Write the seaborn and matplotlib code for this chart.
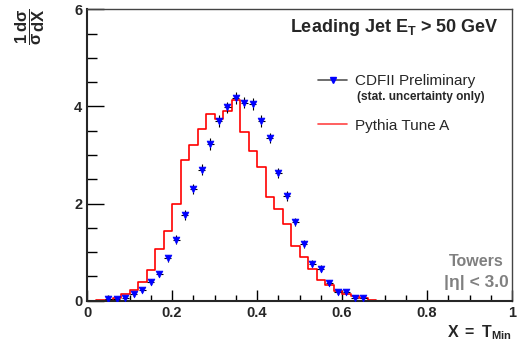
import numpy as np
import pandas as pd
import seaborn as sns
import matplotlib.pyplot as plt
from matplotlib.lines import Line2D
from matplotlib.ticker import MultipleLocator

# CDF data points (bin centres, values, stat errors)
data_x = [0.05, 0.07, 0.09, 0.11, 0.13, 0.15, 0.17, 0.19, 0.21, 0.23, 0.25,
          0.27, 0.29, 0.31, 0.33, 0.35, 0.37, 0.39, 0.41, 0.43, 0.45, 0.47,
          0.49, 0.51, 0.53, 0.55, 0.57, 0.59, 0.61, 0.63, 0.65]
data_y = [0.03, 0.04, 0.06, 0.14, 0.22, 0.38, 0.55, 0.87, 1.26, 1.76, 2.30,
          2.70, 3.22, 3.70, 3.98, 4.18, 4.08, 4.05, 3.70, 3.35, 2.63, 2.15,
          1.62, 1.16, 0.76, 0.66, 0.37, 0.17, 0.17, 0.06, 0.06]
data_err = [0.02, 0.02, 0.03, 0.04, 0.05, 0.06, 0.07, 0.08, 0.09, 0.10, 0.11,
            0.11, 0.12, 0.12, 0.12, 0.12, 0.12, 0.12, 0.12, 0.11, 0.11, 0.10,
            0.09, 0.08, 0.07, 0.07, 0.05, 0.04, 0.04, 0.03, 0.03]

# Pythia Tune A histogram (bins of 0.02 starting at 0)
pythia_centres = [0.01, 0.03, 0.05, 0.07, 0.09, 0.11, 0.13, 0.15, 0.17, 0.19,
                  0.21, 0.23, 0.25, 0.27, 0.29, 0.31, 0.33, 0.35, 0.37, 0.39,
                  0.41, 0.43, 0.45, 0.47, 0.49, 0.51, 0.53, 0.55, 0.57, 0.59,
                  0.61, 0.63, 0.65, 0.67]
pythia_vals = [0.0, 0.01, 0.02, 0.06, 0.13, 0.23, 0.38, 0.63, 1.06, 1.44,
               1.99, 2.90, 3.20, 3.53, 3.84, 3.75, 3.90, 4.13, 3.48, 3.08,
               2.75, 2.14, 1.88, 1.57, 1.12, 0.89, 0.65, 0.43, 0.33, 0.21,
               0.14, 0.10, 0.06, 0.02]

x_ticks = [0, 0.2, 0.4, 0.6, 0.8, 1.0]
x_ticklabels = ["0", "0.2", "0.4", "0.6", "0.8", "1"]
y_ticks = [0, 2, 4, 6]

sns.set_style("ticks")
plt.rcParams['font.family'] = ['Liberation Sans', 'DejaVu Sans']
plt.rcParams['mathtext.fontset'] = 'custom'
plt.rcParams['mathtext.rm'] = 'Liberation Sans'
plt.rcParams['mathtext.bf'] = 'Liberation Sans:bold'
plt.rcParams['mathtext.it'] = 'Liberation Sans:italic'

df_data = pd.DataFrame({'x': data_x, 'y': data_y, 'err': data_err})
df_py = pd.DataFrame({'x': pythia_centres, 'w': pythia_vals})

fig = plt.figure(figsize=(5.18, 3.52), dpi=100)
ax = fig.add_axes([87 / 518, (352 - 300.7) / 352, 425 / 518, 291.4 / 352])

sns.histplot(data=df_py, x='x', weights='w', binwidth=0.02, binrange=(0, 1),
             element='step', fill=False, color='red', linewidth=1.2, ax=ax)

ax.errorbar(df_data['x'], df_data['y'], yerr=df_data['err'], xerr=0.008,
            fmt='none', ecolor='black', elinewidth=0.8, zorder=3)
sns.scatterplot(data=df_data, x='x', y='y', marker='v', color='blue',
                s=24, edgecolor='blue', linewidth=0.5, zorder=4, ax=ax)

ax.set_xlim(0, 1)
ax.set_ylim(0, 6)
ax.set_xticks(x_ticks)
ax.set_xticklabels(x_ticklabels)
ax.set_yticks(y_ticks)
ax.xaxis.set_minor_locator(MultipleLocator(0.05))
ax.yaxis.set_minor_locator(MultipleLocator(0.5))
ax.tick_params(which='both', direction='in', top=False, right=False,
               labelsize=10.5, width=1, color='black')
ax.tick_params(axis='y', which='major', length=12)
ax.tick_params(axis='y', which='minor', length=7)
ax.tick_params(axis='x', which='major', length=8)
ax.tick_params(axis='x', which='minor', length=4)
for lab in ax.get_xticklabels() + ax.get_yticklabels():
    lab.set_fontweight('bold')
ax.set_xlabel('')
ax.set_ylabel('')
for side in ['left', 'bottom']:
    ax.spines[side].set_linewidth(1.5)
for side in ['top', 'right']:
    ax.spines[side].set_visible(True)
    ax.spines[side].set_linewidth(1.0)
    ax.spines[side].set_color('#444444')

ax.text(0.969, 0.922, r'Leading Jet $\mathbf{E_T}$ > 50 GeV', transform=ax.transAxes,
        ha='right', va='baseline', fontsize=13, fontweight='bold')

handles = [Line2D([], [], color='#555555', marker='v', markerfacecolor='blue',
                  markeredgecolor='blue', markersize=5, linewidth=1.2),
           Line2D([], [], color='#ff4444', linewidth=1.2)]
ax.legend(handles, ['CDFII Preliminary', 'Pythia Tune A'], loc='upper left',
          bbox_to_anchor=(0.5435, 0.778), frameon=False, fontsize=11,
          borderpad=0, borderaxespad=0, handlelength=1.9, handletextpad=0.55,
          labelspacing=2.0)
ax.text(0.636, 0.698, '(stat. uncertainty only)', transform=ax.transAxes,
        ha='left', va='center', fontsize=8.6, fontweight='bold')

ax.text(0.915, 0.133, 'Towers', transform=ax.transAxes, ha='center',
        va='center', fontsize=11.5, fontweight='bold', color='#808080')
ax.text(0.915, 0.064, '|η| < 3.0', transform=ax.transAxes, ha='center',
        va='center', fontsize=12.5, fontweight='bold', color='#808080')

fig.text(512 / 518, (352 - 333) / 352, r'$\mathbf{X\ =\ T_{Min}}$',
         ha='right', va='center', fontsize=11.5)
fig.text(30 / 518, 1 - 8 / 352, r'$\mathbf{\dfrac{1}{\sigma}\dfrac{d\sigma}{dX}}$',
         ha='center', va='top', rotation=90, fontsize=12)

fig.savefig('out.png', dpi=100)
